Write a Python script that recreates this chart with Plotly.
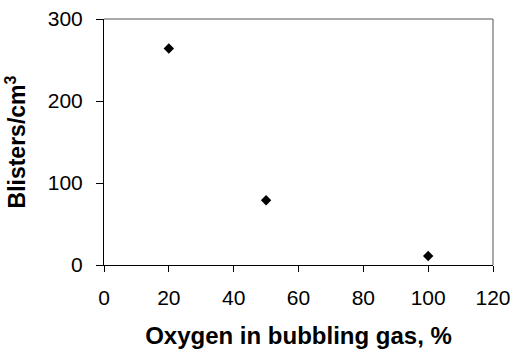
import plotly.graph_objects as go

oxygen_pct = [20, 50, 100]
blisters = [264, 79, 11]

x_ticks = [0, 20, 40, 60, 80, 100, 120]
y_ticks = [0, 100, 200, 300]

fig = go.Figure()
fig.add_trace(go.Scatter(
    x=oxygen_pct, y=blisters, mode="markers",
    marker=dict(symbol="diamond", size=8, color="black"),
    showlegend=False,
))

font = "Liberation Sans, Arial, sans-serif"
gray = "#8c8c8c"
fig.update_layout(
    width=514, height=353,
    margin=dict(l=104, r=21, t=19, b=88),
    paper_bgcolor="white", plot_bgcolor="white",
    font=dict(family=font, size=21, color="black"),
    xaxis=dict(
        range=[0, 120], tickvals=x_ticks, ticks="outside", ticklen=6,
        tickcolor="black", showline=True, linecolor="black", linewidth=1,
        mirror=False, showgrid=False, zeroline=False, automargin=False,
        ticklabelstandoff=8, ticklabeloverflow="allow",
        title=dict(text="<b>Oxygen in bubbling gas, %</b>", standoff=18,
                   font=dict(size=24)),
    ),
    yaxis=dict(
        range=[0, 300], tickvals=y_ticks, ticks="outside", ticklen=7,
        tickcolor="black", showline=True, linecolor="black", linewidth=1,
        showgrid=False, zeroline=False, automargin=False,
        ticklabelstandoff=9, ticklabeloverflow="allow",
        title=dict(text="<b>Blisters/cm<sup>3</sup></b>", standoff=15,
                   font=dict(size=23)),
    ),
    shapes=[
        dict(type="line", xref="paper", yref="paper", x0=1, x1=1, y0=0, y1=1,
             layer="below", line=dict(color=gray, width=1.5)),
        dict(type="line", xref="paper", yref="paper", x0=0, x1=1, y0=1, y1=1,
             layer="below", line=dict(color=gray, width=1.5)),
    ],
)

fig.write_html("out.html", config={"displayModeBar": False},
               post_script="document.body.style.margin='0';document.body.style.overflow='hidden';")
